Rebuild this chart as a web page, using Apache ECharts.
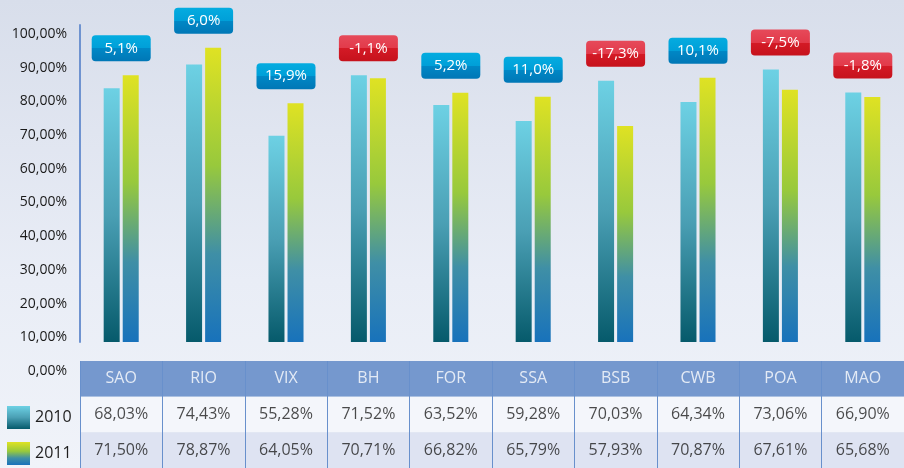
<!DOCTYPE html>
<html>
<head>
<meta charset="utf-8">
<script src="https://cdn.jsdelivr.net/npm/echarts@6/dist/echarts.min.js"></script>
<style>
html, body { margin: 0; padding: 0; }
#chart { width: 904px; height: 468px; background: linear-gradient(#d8deeb, #e9edf6 60%, #f0f3f9); }
</style>
</head>
<body>
<div id="chart"></div>
<script>
// dados
var categories = ['SAO', 'RIO', 'VIX', 'BH', 'FOR', 'SSA', 'BSB', 'CWB', 'POA', 'MAO'];
var values2010 = [68.03, 74.43, 55.28, 71.52, 63.52, 59.28, 70.03, 64.34, 73.06, 66.90];
var values2011 = [71.50, 78.87, 64.05, 70.71, 66.82, 65.79, 57.93, 70.87, 67.61, 65.68];
var changeLabels = ['5,1%', '6,0%', '15,9%', '-1,1%', '5,2%', '11,0%', '-17,3%', '10,1%', '-7,5%', '-1,8%'];
var tableRows = ['header', '2010', '2011'];

var font = 'Open Sans';
// retangulo com cantos arredondados para as etiquetas de variacao
var badgePath = 'path://M4,0 H55 Q59,0 59,4 V22 Q59,26 55,26 H4 Q0,26 0,22 V4 Q0,0 4,0 Z';

function pct(v) {
    return v.toFixed(2).replace('.', ',') + '%';
}

var color2010 = new echarts.graphic.LinearGradient(0, 0, 0, 1, [
    { offset: 0, color: '#6dd1e4' },
    { offset: 0.5, color: '#4a9fb4' },
    { offset: 1, color: '#065a6b' }
]);
var color2011 = new echarts.graphic.LinearGradient(0, 0, 0, 1, [
    { offset: 0, color: '#dfe223' },
    { offset: 0.4, color: '#98c93c' },
    { offset: 0.7, color: '#3f8fa6' },
    { offset: 1, color: '#1872bb' }
]);
var badgeBlue = new echarts.graphic.LinearGradient(0, 0, 0, 1, [
    { offset: 0, color: '#04ace0' },
    { offset: 0.5, color: '#009fd8' },
    { offset: 0.5, color: '#0088c6' },
    { offset: 1, color: '#0077b6' }
]);
var badgeRed = new echarts.graphic.LinearGradient(0, 0, 0, 1, [
    { offset: 0, color: '#e64a5a' },
    { offset: 0.5, color: '#e23a4a' },
    { offset: 0.5, color: '#d41a26' },
    { offset: 1, color: '#c6121c' }
]);

var myChart = echarts.init(document.getElementById('chart'));

var legendBase = {
    left: 7,
    padding: 0,
    icon: 'rect',
    itemWidth: 23,
    itemHeight: 23,
    selectedMode: false,
    textStyle: { fontFamily: font, fontSize: 16, color: '#1e1e1e' }
};

var option = {
    animation: false,
    backgroundColor: 'transparent',
    legend: [
        Object.assign({ data: ['2010'], top: 406 }, legendBase),
        Object.assign({ data: ['2011'], top: 442 }, legendBase)
    ],
    grid: [
        { left: 80, width: 833, top: 34, bottom: 97 },      // eixo visivel
        { left: 80, width: 833, top: 25, bottom: 126 },     // barras
        { left: 80, width: 833, top: 361, height: 112 }     // tabela
    ],
    xAxis: [
        { gridIndex: 0, type: 'category', data: categories, show: false },
        { gridIndex: 1, type: 'category', data: categories, axisLine: { show: false }, axisTick: { show: false }, axisLabel: { show: false } },
        {
            gridIndex: 2, type: 'category', data: categories,
            axisLine: { show: false }, axisTick: { show: false }, axisLabel: { show: false },
            splitLine: { show: true, lineStyle: { color: '#6890cc', width: 1 } }
        }
    ],
    yAxis: [
        {
            gridIndex: 0, type: 'value', min: 0, max: 100, interval: 10,
            axisLine: { show: false }, axisTick: { show: false }, splitLine: { show: false },
            axisLabel: { margin: 13, fontFamily: font, fontSize: 14, color: '#1a1a1a', formatter: pct }
        },
        {
            gridIndex: 1, type: 'value', min: 0, max: 85,
            axisLine: { show: true, lineStyle: { color: '#6f93d0', width: 2 } },
            axisTick: { show: false }, axisLabel: { show: false }, splitLine: { show: false }
        },
        {
            gridIndex: 2, type: 'category', data: tableRows, inverse: true,
            axisLine: { show: false }, axisTick: { show: false }, axisLabel: { show: false },
            splitArea: { show: true, areaStyle: { color: ['#7598ce', '#f4f6fb', '#dee3f2'] } }
        }
    ],
    series: [
        {
            name: '2010', type: 'bar', xAxisIndex: 1, yAxisIndex: 1,
            data: values2010, barWidth: 16, barGap: '19%',
            itemStyle: { color: color2010 }
        },
        {
            name: '2011', type: 'bar', xAxisIndex: 1, yAxisIndex: 1,
            data: values2011, barWidth: 16, barGap: '19%',
            itemStyle: { color: color2011 }
        },
        {
            name: 'variacao', type: 'scatter', xAxisIndex: 1, yAxisIndex: 1, z: 5,
            symbol: badgePath, symbolSize: [59, 26], symbolOffset: [0, -27],
            data: categories.map(function (c, i) {
                return {
                    value: Math.max(values2010[i], values2011[i]),
                    itemStyle: { opacity: 1, color: changeLabels[i].charAt(0) === '-' ? badgeRed : badgeBlue }
                };
            }),
            label: {
                show: true, position: 'inside', color: '#fff',
                fontFamily: font, fontSize: 15,
                formatter: function (p) { return changeLabels[p.dataIndex]; }
            }
        },
        {
            name: 'cabecalho', type: 'scatter', xAxisIndex: 2, yAxisIndex: 2,
            symbolSize: 1, itemStyle: { color: 'transparent' },
            data: categories.map(function (c, i) { return [i, 0]; }),
            label: {
                show: true, position: 'inside', color: '#fff', fontFamily: font, fontSize: 16,
                formatter: function (p) { return categories[p.dataIndex]; }
            }
        },
        {
            name: 'tab2010', type: 'scatter', xAxisIndex: 2, yAxisIndex: 2,
            symbolSize: 1, itemStyle: { color: 'transparent' },
            data: values2010.map(function (v, i) { return [i, 1]; }),
            label: {
                show: true, position: 'inside', color: '#1e1e1e', fontFamily: font, fontSize: 16,
                formatter: function (p) { return pct(values2010[p.dataIndex]); }
            }
        },
        {
            name: 'tab2011', type: 'scatter', xAxisIndex: 2, yAxisIndex: 2,
            symbolSize: 1, itemStyle: { color: 'transparent' },
            data: values2011.map(function (v, i) { return [i, 2]; }),
            label: {
                show: true, position: 'inside', color: '#1e1e1e', fontFamily: font, fontSize: 16,
                formatter: function (p) { return pct(values2011[p.dataIndex]); }
            }
        }
    ]
};

myChart.setOption(option);
</script>
</body>
</html>
